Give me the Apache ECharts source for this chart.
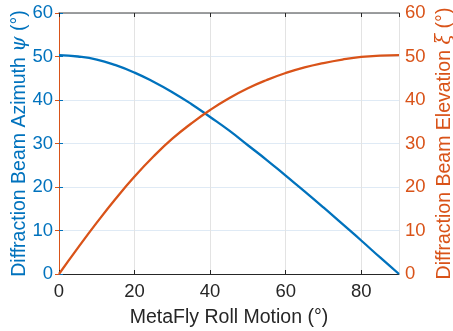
<!DOCTYPE html>
<html>
<head>
<meta charset="utf-8">
<script src="https://cdn.jsdelivr.net/npm/echarts@6/dist/echarts.min.js"></script>
<style>
  html, body { margin: 0; padding: 0; background: #fff; }
  #chart { width: 453px; height: 331px; }
</style>
</head>
<body>
<div id="chart"></div>
<script>
// roll motion (deg)
const roll = [0, 5, 10, 15, 20, 25, 30, 35, 40, 45, 50, 55, 60, 65, 70, 75, 80, 85, 90];
// azimuth psi (deg), left axis
const azimuth = [50.3, 50.0, 49.3, 48.0, 46.3, 44.2, 41.8, 39.1, 36.1, 33.0, 29.6, 26.2, 22.6, 19.0, 15.3, 11.5, 7.7, 3.8, 0];
// elevation xi (deg), right axis
const elevation = [0, 6.0, 11.8, 17.3, 22.4, 27.0, 31.1, 34.6, 37.7, 40.4, 42.7, 44.6, 46.2, 47.5, 48.5, 49.3, 49.9, 50.2, 50.3];

const BLUE = '#0072BD';
const ORANGE = '#D95319';
const FONT = '"Liberation Sans", Arial, Helvetica, sans-serif';

const chart = echarts.init(document.getElementById('chart'));

function pairs(ys) {
    let out = [];
    for (let i = 0; i < roll.length; i++) out.push([roll[i], ys[i]]);
    return out;
}

function yAxisFor(color, name, pos, gap) {
    return {
        type: 'value',
        position: pos,
        min: 0, max: 60, interval: 10,
        name: name,
        nameLocation: 'middle',
        nameGap: gap,
        nameMoveOverlap: false,
        nameTextStyle: {
            color: color, fontSize: 19.5, fontFamily: FONT,
            rich: { i: { color: color, fontSize: 19.5, fontStyle: 'italic', fontFamily: 'DejaVu Serif' } }
        },
        axisLine: { show: true, lineStyle: { color: color, width: 1 } },
        axisTick: { show: true, inside: true, length: 4, lineStyle: { color: color } },
        axisLabel: { color: color, fontSize: 18.5, fontFamily: FONT, margin: 6 },
        splitLine: { show: pos === 'left', lineStyle: { color: '#dfeaf5', width: 1 } }
    };
}

chart.setOption({
    animation: false,
    grid: { left: 59, right: 54, top: 13, bottom: 57, containLabel: false, outerBoundsMode: 'none' },
    xAxis: [{
        type: 'value',
        min: 0, max: 90, interval: 20,
        name: 'MetaFly Roll Motion (°)',
        nameLocation: 'middle',
        nameGap: 34,
        nameMoveOverlap: false,
        nameTextStyle: { color: '#262626', fontSize: 19.5, fontFamily: FONT },
        axisLine: { show: true, onZero: false, lineStyle: { color: '#262626', width: 1 } },
        axisTick: { show: true, inside: true, length: 4, lineStyle: { color: '#262626' } },
        axisLabel: { color: '#262626', fontSize: 18.5, fontFamily: FONT, margin: 8, showMaxLabel: false },
        splitLine: { show: true, lineStyle: { color: '#e3e3e3', width: 1 } }
    }, {
        type: 'value',
        position: 'top',
        min: 0, max: 90, interval: 20,
        axisLine: { show: true, onZero: false, lineStyle: { color: '#7f7f7f', width: 1.5 } },
        axisTick: { show: true, inside: true, length: 4, lineStyle: { color: '#262626' } },
        axisLabel: { show: false },
        splitLine: { show: false }
    }],
    yAxis: [
        yAxisFor(BLUE, 'Diffraction Beam Azimuth {i|ψ} (°)', 'left', 29),
        yAxisFor(ORANGE, 'Diffraction Beam Elevation {i|ξ} (°)', 'right', 36)
    ],
    series: [{
        type: 'line',
        name: 'azimuth',
        yAxisIndex: 0,
        data: pairs(azimuth),
        smooth: true,
        symbol: 'none',
        lineStyle: { color: BLUE, width: 2.3 }
    }, {
        type: 'line',
        name: 'elevation',
        yAxisIndex: 1,
        data: pairs(elevation),
        smooth: true,
        symbol: 'none',
        lineStyle: { color: ORANGE, width: 2.3 }
    }]
});
</script>
</body>
</html>
